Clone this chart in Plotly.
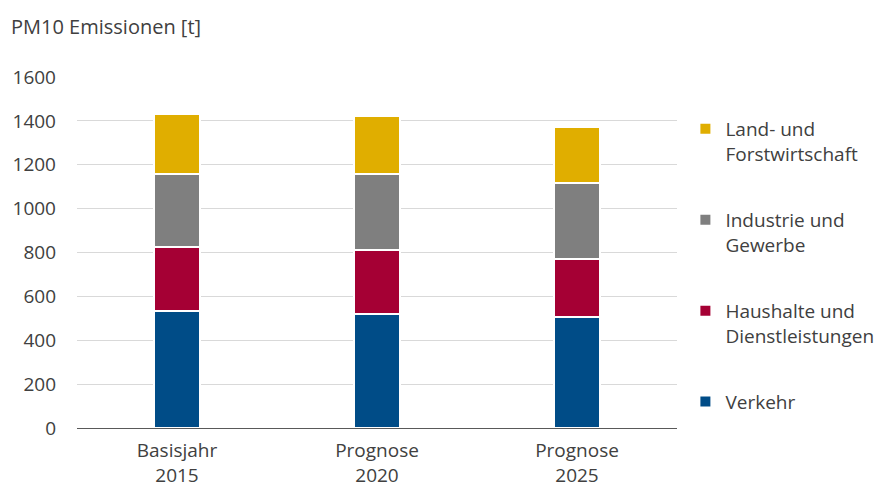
import plotly.graph_objects as go

# Kategorien (Jahre) und Emissionen je Sektor in Tonnen
categories = ["Basisjahr<br>2015", "Prognose<br>2020", "Prognose<br>2025"]
verkehr = [534, 518, 505]
haushalte = [289, 295, 267]
industrie = [336, 346, 347]
landwirtschaft = [274, 262, 255]

# Stapelreihenfolge von unten nach oben; Legende zeigt sie von oben nach unten
series = [
    ("Verkehr", verkehr, "#004C87"),
    ("Haushalte und<br>Dienstleistungen", haushalte, "#A50034"),
    ("Industrie und<br>Gewerbe", industrie, "#7F7F7F"),
    ("Land- und<br>Forstwirtschaft", landwirtschaft, "#E0AE00"),
]

FONT = "Open Sans"
SIZE = 19
TEXT = "#404040"

fig = go.Figure()
n = len(series)
for i, (name, vals, color) in enumerate(series):
    fig.add_trace(go.Bar(
        x=categories, y=vals, name=name,
        legendgroup=f"g{i}",
        legendrank=n - i,
        marker=dict(color=color, line=dict(color="white", width=2)),
    ))

fig.update_layout(
    width=891, height=487,
    barmode="stack",
    bargap=0.77,
    plot_bgcolor="white",
    paper_bgcolor="white",
    margin=dict(l=77, r=214, t=77, b=59, autoexpand=False),
    font=dict(family=FONT, size=SIZE, color=TEXT),
    title=dict(
        text="PM10 Emissionen [t]",
        x=11 / 891, xanchor="left", xref="container",
        y=1 - 27 / 487, yanchor="middle", yref="container",
        font=dict(family=FONT, size=SIZE + 1, color=TEXT),
    ),
    legend=dict(
        x=1.014, xanchor="left", y=0.906, yanchor="top",
        traceorder="grouped",
        tracegroupgap=38.5,
        valign="top",
        font=dict(family=FONT, size=SIZE, color=TEXT),
        bgcolor="rgba(0,0,0,0)",
    ),
    xaxis=dict(
        showgrid=False, automargin=False,
        showline=True, linecolor="#595959", linewidth=1,
        ticks="", ticklabelstandoff=5,
        tickfont=dict(family=FONT, size=SIZE, color=TEXT),
    ),
    yaxis=dict(
        range=[0, 1600], dtick=200, automargin=False,
        showgrid=True, gridcolor="#D9D9D9", gridwidth=1,
        zeroline=False, showline=False,
        ticks="", ticklabelstandoff=20,
        tickfont=dict(family=FONT, size=SIZE, color=TEXT),
    ),
)

fig.write_html("out.html")
